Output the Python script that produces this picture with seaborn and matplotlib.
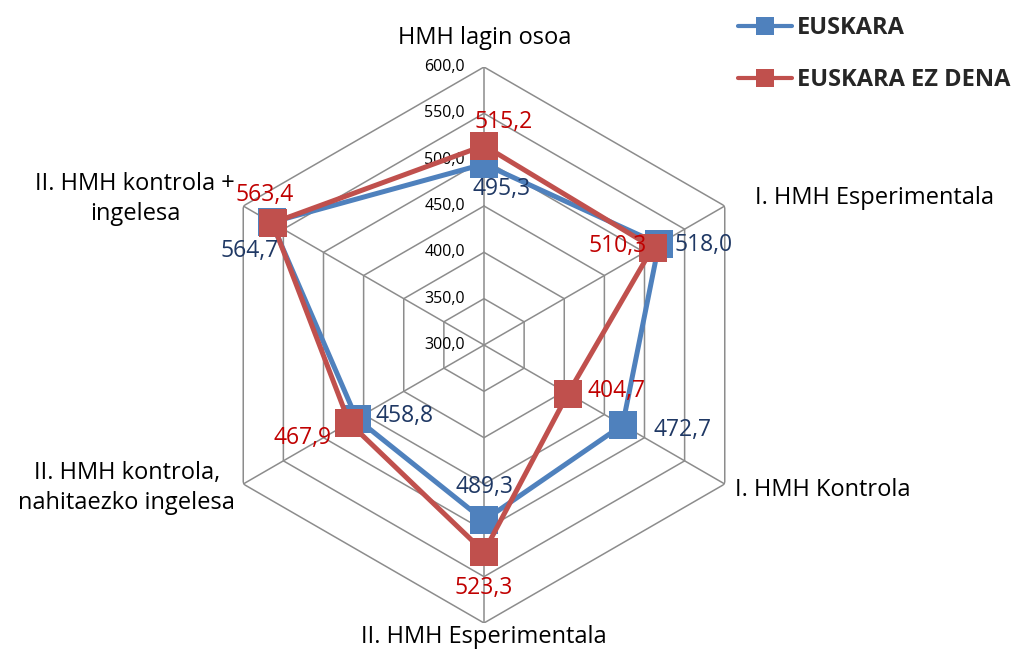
import numpy as np
import pandas as pd
import matplotlib
matplotlib.use("Agg")
import matplotlib.pyplot as plt
from matplotlib.lines import Line2D
import seaborn as sns

# ---- data ----
categories = ["HMH lagin osoa", "I. HMH Esperimentala", "I. HMH Kontrola",
              "II. HMH Esperimentala", "II. HMH kontrola,\nnahitaezko ingelesa",
              "II. HMH kontrola +\ningelesa"]
series_names = ["EUSKARA", "EUSKARA EZ DENA"]
euskara = [495.3, 518.0, 472.7, 489.3, 458.8, 564.7]
ez_dena = [515.2, 510.3, 404.7, 523.3, 467.9, 563.4]
r_ticks = [300, 350, 400, 450, 500, 550, 600]
tick_labels = ["300,0", "350,0", "400,0", "450,0", "500,0", "550,0", "600,0"]

# ---- styling ----
sns.set_style("white")
plt.rcParams['font.family'] = ['Open Sans', 'DejaVu Sans']

line_colors = ["#4F81BD", "#C0504D"]
label_colors = ["#1F3864", "#C00000"]
grid_color = "#8C8C8C"

W, H, DPI = 1018, 664, 100
fig = plt.figure(figsize=(W / DPI, H / DPI), dpi=DPI)
cx, cy, rad = 484, 345, 278
ax = fig.add_axes([(cx - rad) / W, 1 - (cy + rad) / H, 2 * rad / W, 2 * rad / H],
                  projection="polar")
ax.set_theta_zero_location("N")
ax.set_theta_direction(-1)
ax.set_ylim(r_ticks[0], r_ticks[-1])
ax.grid(False)
ax.spines["polar"].set_visible(False)
ax.set_xticks([])
ax.set_yticks([])
ax.patch.set_alpha(0)

n = len(categories)
theta = np.arange(n) * 2 * np.pi / n
theta_c = np.append(theta, theta[0])

# hexagonal grid
for v in r_ticks[1:]:
    ax.plot(theta_c, [v] * (n + 1), color=grid_color, lw=1.1, zorder=1)
for t in theta:
    ax.plot([t, t], [r_ticks[0], r_ticks[-1]], color=grid_color, lw=1.1, zorder=1)

# radial tick labels
for v, lab in zip(r_ticks, tick_labels):
    ax.annotate(lab, xy=(0, v), xytext=(-19, 0), textcoords="offset pixels",
                ha="right", va="center", fontsize=11.5, color="#000000")

# category labels (offset px (x right, y down), ha)
cat_offsets = [(1, -29, "center"), (30, -8, "left"), (10, 6, "left"),
               (0, 14, "center"), (-8, 4, "right"), (-8, -7, "right")]
for t, lab, (dx, dy, ha) in zip(theta, categories, cat_offsets):
    ax.annotate(lab, xy=(t, r_ticks[-1]), xytext=(dx, -dy), textcoords="offset pixels",
                ha=ha, va="center", multialignment="center", fontsize=17,
                color="#000000", linespacing=1.3)

# series
df = pd.concat([
    pd.DataFrame({"theta": theta_c, "r": np.append(vals, vals[0]), "serie": name})
    for name, vals in zip(series_names, [euskara, ez_dena])
])
for name, col in zip(series_names, line_colors):
    sub = df[df["serie"] == name]
    sns.lineplot(data=sub, x="theta", y="r", sort=False, estimator=None, ax=ax,
                 color=col, lw=3.6, marker="s", markersize=19.5,
                 markeredgewidth=0, legend=False, zorder=3)
ax.set_xlabel("")
ax.set_ylabel("")

# data labels
label_offsets = [
    [(18, 25), (45, 1), (60, 5), (0, -33), (48, -3), (-22, 29)],
    [(20, -24), (-35, -2), (48, -3), (0, 36), (-47, 15), (-8, -28)],
]
for vals, col, offs in zip([euskara, ez_dena], label_colors, label_offsets):
    for t, v, (dx, dy) in zip(theta, vals, offs):
        ax.annotate(f"{v:.1f}".replace(".", ","), xy=(t, v), xytext=(dx, -dy),
                    textcoords="offset pixels", ha="center", va="center",
                    fontsize=16.5, color=col, zorder=5)

# legend
handles = [Line2D([0], [0], color=c, lw=3, marker="s", markersize=13, markeredgewidth=0)
           for c in line_colors]
fig.legend(handles, series_names, loc="upper left", bbox_to_anchor=(738 / W, 1 - 16 / H),
           frameon=False, prop={"weight": "bold", "size": 17}, handlelength=2.3,
           handletextpad=0.2, labelspacing=1.2, borderpad=0, borderaxespad=0)

fig.savefig("out.png", dpi=DPI)
